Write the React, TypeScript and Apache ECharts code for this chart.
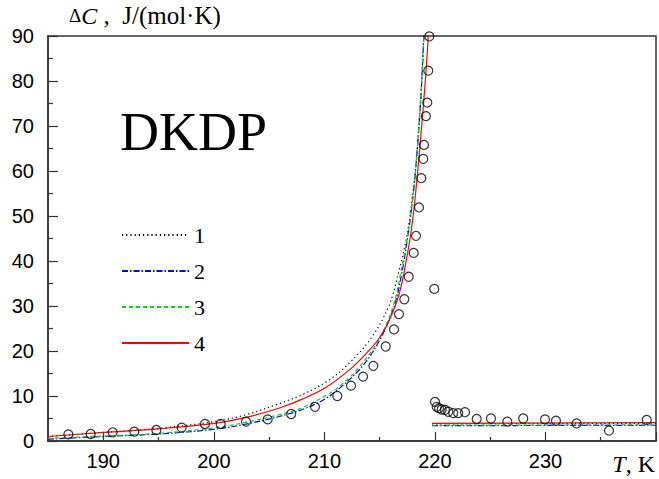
import React, { useEffect, useRef } from 'react';
import * as echarts from 'echarts';

// ---- axes ----
const xMin = 185;
const xMax = 240;
const xLabelValues = [190, 200, 210, 220, 230];
const xMajorTickValues = [190, 200, 210, 220, 230, 240];
const xMinorTickValues = [185, 195, 205, 215, 225, 235];
const yMin = 0;
const yMax = 90;
const yStep = 10;

// ---- experimental points (T, K ; ΔC, J/(mol·K)) ----
const expT = [
  186.84, 188.86, 190.85, 192.81, 194.8, 197.09, 199.2, 200.62, 202.91, 204.87,
  207.0, 209.15, 211.17, 212.41, 213.5, 214.43, 215.55, 216.3, 216.75, 217.23,
  217.63, 218.08, 218.29, 218.56, 218.77, 218.95, 219.01, 219.19, 219.31, 219.4,
  219.49, 219.94,
  220.01, 220.16, 220.37, 220.61, 220.91, 221.21, 221.66, 222.11, 222.72, 223.78,
  225.07, 226.55, 227.99, 229.96, 230.95, 232.82, 235.75, 239.16,
];
const expC = [
  1.48, 1.56, 1.93, 2.07, 2.44, 2.96, 3.78, 3.78, 4.3, 4.81,
  6.0, 7.6, 10.0, 12.3, 14.3, 16.7, 21.0, 24.8, 28.2, 31.5,
  36.5, 41.8, 45.6, 51.9, 58.4, 62.7, 65.8, 72.2, 75.2, 82.3,
  89.9, 33.8,
  8.7, 7.6, 7.3, 7.0, 6.9, 6.5, 6.2, 6.2, 6.4, 4.9,
  5.0, 4.3, 5.0, 4.8, 4.5, 3.9, 2.3, 4.7,
];

// ---- model curves ----
const curve1Low = [
  [185, 1.0], [190, 1.9], [195, 2.8], [200, 4.3], [203, 5.9], [206, 8.4], [208, 10.3],
  [210.2, 13.2], [211.9, 16.5], [214.1, 22.4], [215.8, 29.8], [216.7, 37.3],
  [217.4, 44.7], [217.8, 51.0], [218.3, 62.0], [218.7, 75.8], [219.0, 90.0], [219.2, 100.0],
];
const curve1High = [[219.74, 3.8], [240, 3.95]];

const curve2Low = [
  [185, 0.4], [190, 1.0], [195, 1.55], [200, 2.6], [203, 3.8], [206, 5.5],
  [208, 7.0], [209.9, 9.1], [211.4, 11.8], [213.4, 16.5], [215.0, 22.4], [216.3, 29.8],
  [217.0, 37.3], [217.5, 44.7], [217.8, 50.0], [218.2, 58.7], [218.72, 75.8],
  [219.0, 90.0], [219.2, 100.0],
];
const curve2High = [[219.74, 3.4], [240, 3.5]];

const curve3Low = [
  [185, 0.6], [190, 1.1], [195, 1.7], [200, 2.9], [203, 4.2], [206, 5.9],
  [208, 7.4], [210.2, 10.2], [211.3, 12.0], [213.0, 16.0], [214.9, 22.4], [216.2, 29.8],
  [216.9, 37.3], [217.45, 44.7], [217.8, 50.0], [218.2, 58.7], [218.7, 75.8],
  [219.0, 90.0], [219.2, 100.0],
];
const curve3High = [[219.74, 3.5], [240, 3.6]];

const curve4Low = [
  [185, 1.0], [190, 1.9], [195, 2.7], [200, 3.9], [203, 5.3], [206, 7.4],
  [208, 9.3], [210.2, 12.0], [212.5, 16.3], [214.0, 20.0], [215.0, 23.0], [216.0, 27.5],
  [216.8, 33.0], [217.4, 40.0], [217.9, 47.5], [218.35, 57.5], [219.0, 75.8],
  [219.4, 90.0], [219.55, 100.0],
];
const curve4High = [[219.74, 3.9], [240, 4.1]];

const legendNames = ['1', '2', '3', '4'];

const SERIF = "'Liberation Serif', 'Times New Roman', serif";
const SANS = "'Liberation Sans', Arial, sans-serif";
const AXIS = '#333';

export default function App() {
  const ref = useRef<HTMLDivElement>(null);

  useEffect(() => {
    if (!ref.current) return;
    const chart = echarts.init(ref.current, undefined, { renderer: 'svg' });

    const styles: Record<string, any> = {
      '1': { color: '#000000', width: 1.2, type: [1.2, 3] },
      '2': { color: '#0000ff', width: 1.2, type: [6, 2, 1.5, 2] },
      '3': { color: '#00dd00', width: 1.2, type: [4, 3] },
      '4': { color: '#ff0000', width: 1.2, type: 'solid' },
    };
    const mkLine = (name: string, data: number[][], key: string) => ({
      name,
      type: 'line',
      data,
      xAxisIndex: 0,
      yAxisIndex: 0,
      symbol: 'none',
      showSymbol: false,
      smooth: 0.35,
      clip: true,
      lineStyle: styles[key],
      itemStyle: { color: styles[key].color },
      emphasis: { disabled: true },
      z: 2,
    });

    const points = expT.map((t, i) => [t, expC[i]]);

    chart.setOption({
      animation: false,
      backgroundColor: '#ffffff',
      grid: {
        left: 48,
        top: 36,
        right: 3,
        bottom: 38,
        show: true,
        borderColor: AXIS,
        borderWidth: 1.5,
        backgroundColor: 'transparent',
        containLabel: false,
        outerBoundsMode: 'none',
      },
      legend: {
        data: legendNames,
        orient: 'vertical',
        left: 121,
        top: 224,
        padding: 0,
        itemWidth: 67,
        itemHeight: 14,
        itemGap: 14,
        selectedMode: false,
        itemStyle: { color: 'transparent', borderColor: 'transparent', borderWidth: 0, opacity: 0 },
        textStyle: { fontFamily: SERIF, fontSize: 22, color: '#000', lineHeight: 22 },
      },
      xAxis: [
        {
          type: 'value',
          min: xMin,
          max: xMax,
          position: 'bottom',
          axisLine: { show: true, onZero: false, lineStyle: { color: AXIS, width: 1.5 } },
          axisTick: {
            show: true,
            inside: true,
            length: 9,
            customValues: xMajorTickValues,
            lineStyle: { color: AXIS, width: 1.2 },
          },
          axisLabel: {
            show: true,
            customValues: xLabelValues,
            margin: 10,
            fontSize: 20,
            fontFamily: SANS,
            color: '#000',
          },
          splitLine: { show: false },
        },
        {
          type: 'value',
          min: xMin,
          max: xMax,
          position: 'bottom',
          axisLine: { show: false, onZero: false },
          axisTick: {
            show: true,
            inside: true,
            length: 4,
            customValues: xMinorTickValues,
            lineStyle: { color: AXIS, width: 1.2 },
          },
          axisLabel: { show: false },
          splitLine: { show: false },
        },
      ],
      yAxis: {
        type: 'value',
        min: yMin,
        max: yMax,
        interval: yStep,
        axisLine: { show: true, onZero: false, lineStyle: { color: AXIS, width: 1.5 } },
        axisTick: { show: true, inside: true, length: 10, lineStyle: { color: AXIS, width: 1.2 } },
        minorTick: { show: true, splitNumber: 2, length: 5, lineStyle: { color: AXIS, width: 1.2 } },
        axisLabel: { margin: 14, fontSize: 20, fontFamily: SANS, color: '#000' },
        splitLine: { show: false },
        minorSplitLine: { show: false },
      },
      graphic: [
        {
          type: 'text',
          left: 120,
          top: 105,
          silent: true,
          style: { text: 'DKDP', font: `54px ${SERIF}`, fill: '#000' },
        },
        {
          type: 'text',
          x: 69,
          y: 3,
          silent: true,
          style: {
            text: '{d|Δ}{c|C}{n| ,  J/(mol·K)}',
            fill: '#000',
            rich: {
              d: { fontFamily: SERIF, fontSize: 19, color: '#000' },
              c: { fontFamily: SERIF, fontSize: 24, fontStyle: 'italic', color: '#000' },
              n: { fontFamily: SERIF, fontSize: 25, color: '#000' },
            },
          },
        },
        {
          type: 'text',
          right: 4,
          top: 452,
          silent: true,
          style: {
            text: '{t|T}{n|, K}',
            fill: '#000',
            rich: {
              t: { fontFamily: SERIF, fontSize: 24, fontStyle: 'italic', color: '#000' },
              n: { fontFamily: SERIF, fontSize: 24, color: '#000' },
            },
          },
        },
      ],
      series: [
        mkLine('1', curve1Low, '1'),
        mkLine('1b', curve1High, '1'),
        mkLine('2', curve2Low, '2'),
        mkLine('2b', curve2High, '2'),
        mkLine('3', curve3Low, '3'),
        mkLine('3b', curve3High, '3'),
        mkLine('4', curve4Low, '4'),
        mkLine('4b', curve4High, '4'),
        {
          name: 'exp',
          type: 'scatter',
          data: points,
          xAxisIndex: 0,
          yAxisIndex: 0,
          symbol: 'circle',
          symbolSize: 9,
          itemStyle: { color: 'transparent', borderColor: '#000', borderWidth: 1.2 },
          emphasis: { disabled: true },
          z: 3,
        },
      ],
    });

    return () => chart.dispose();
  }, []);

  return (
    <div
      ref={ref}
      style={{ position: 'fixed', left: 0, top: 0, width: 659, height: 479, background: '#fff' }}
    />
  );
}
